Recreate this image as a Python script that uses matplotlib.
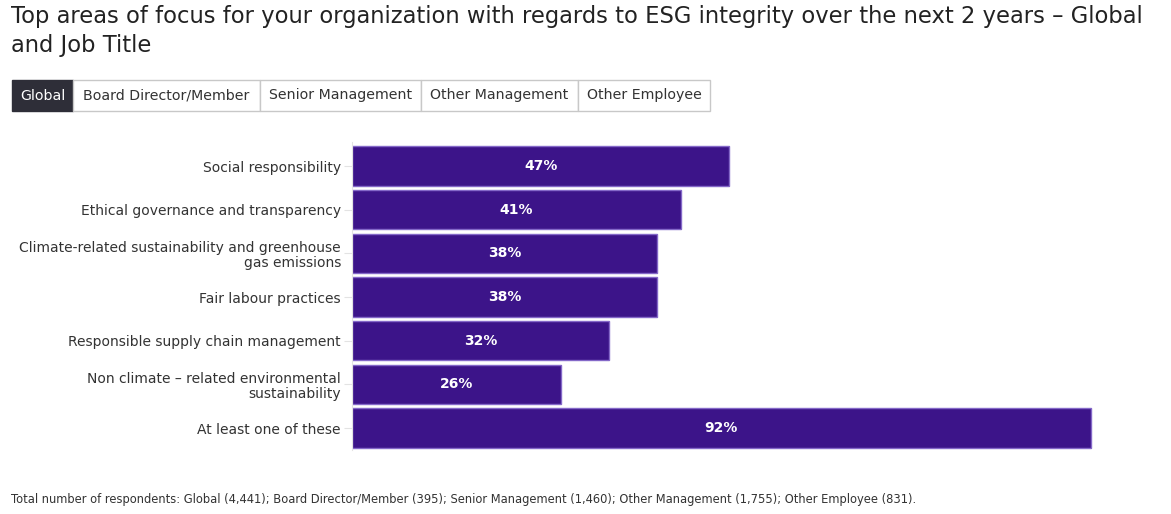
import matplotlib
matplotlib.use("Agg")
import matplotlib.pyplot as plt
from matplotlib.patches import Rectangle

# data
categories = [
    "Social responsibility",
    "Ethical governance and transparency",
    "Climate-related sustainability and greenhouse\ngas emissions",
    "Fair labour practices",
    "Responsible supply chain management",
    "Non climate \u2013 related environmental\nsustainability",
    "At least one of these",
]
values = [47, 41, 38, 38, 32, 26, 92]

tabs = ["Global", "Board Director/Member", "Senior Management", "Other Management", "Other Employee"]
tab_edges_px = [12, 73, 260, 421, 578, 710]

title = "Top areas of focus for your organization with regards to ESG integrity over the next 2 years \u2013 Global\nand Job Title"
footer = ("Total number of respondents: Global (4,441); Board Director/Member (395); Senior Management (1,460); "
          "Other Management (1,755); Other Employee (831).")

bar_color = "#3c1489"
edge_color = "#8468c8"
text_color = "#333333"

W, H = 1171, 514
fig = plt.figure(figsize=(W / 100, H / 100), dpi=100)
plt.rcParams['font.family'] = ['DejaVu Sans']

# title
fig.text(11 / W, 1 - 5 / H, title, ha="left", va="top", fontsize=16.3, color="#222222", linespacing=1.32)

# tabs
for i, name in enumerate(tabs):
    x0 = tab_edges_px[i] / W
    x1 = tab_edges_px[i + 1] / W
    y0 = 1 - 111 / H
    h = 31 / H
    active = i == 0
    fig.patches.append(Rectangle((x0, y0), x1 - x0, h, transform=fig.transFigure,
                                 facecolor="#2e2e38" if active else "white",
                                 edgecolor="#2e2e38" if active else "#c8c8c8", lw=1))
    fig.text((x0 + x1) / 2, y0 + h / 2, name, ha="center", va="center", fontsize=10.2,
             color="white" if active else "#333333")

# chart
ax = fig.add_axes([352 / W, 1 - 450 / H, (1155 - 352) / W, (450 - 142) / H])
y = list(range(len(categories)))
ax.barh(y, values, height=0.9, color=bar_color, edgecolor=edge_color, linewidth=1)
for yi, v in zip(y, values):
    ax.text(v / 2, yi, f"{v}%", ha="center", va="center", color="white", fontsize=10, fontweight="bold")

ax.set_xlim(0, 100)
ax.set_ylim(len(categories) - 0.5, -0.55)
ax.set_yticks(y)
ax.set_yticklabels(categories, fontsize=10, color=text_color, linespacing=1.1)
ax.set_xticks([])
for s in ["top", "right", "bottom"]:
    ax.spines[s].set_visible(False)
ax.spines["left"].set_color("#e3e3e3")
ax.tick_params(axis="y", length=6, color="#e3e3e3", pad=2)

# footer
fig.text(11 / W, 1 - 500 / H, footer, ha="left", va="center", fontsize=8.3, color="#333333")

fig.savefig("out.png", dpi=100)
